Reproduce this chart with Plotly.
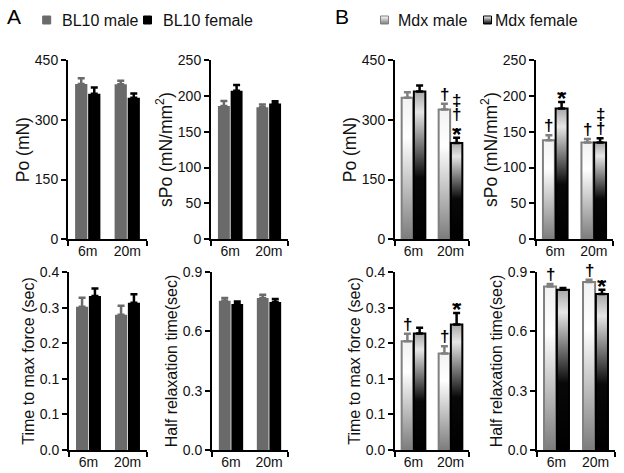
import plotly.graph_objects as go

# ---------------- data ----------------
categories = ["6m", "20m"]

# Panel A : BL10
bl10_po_male = [390, 389]
bl10_po_male_err = [14, 9]
bl10_po_female = [365, 355]
bl10_po_female_err = [16, 11]

bl10_spo_male = [186, 184]
bl10_spo_male_err = [7, 4]
bl10_spo_female = [207, 189.5]
bl10_spo_female_err = [8, 3]

bl10_ttmf_male = [0.322, 0.304]
bl10_ttmf_male_err = [0.020, 0.020]
bl10_ttmf_female = [0.346, 0.331]
bl10_ttmf_female_err = [0.017, 0.019]

bl10_hrt_male = [0.755, 0.768]
bl10_hrt_male_err = [0.013, 0.017]
bl10_hrt_female = [0.738, 0.748]
bl10_hrt_female_err = [0.013, 0.015]

# Panel B : Mdx
mdx_po_male = [355, 326]
mdx_po_male_err = [14, 14]
mdx_po_female = [371, 242]
mdx_po_female_err = [15, 13]

mdx_spo_male = [138, 135]
mdx_spo_male_err = [7, 5]
mdx_spo_female = [182.5, 135]
mdx_spo_female_err = [9, 6]

mdx_ttmf_male = [0.2445, 0.217]
mdx_ttmf_male_err = [0.017, 0.016]
mdx_ttmf_female = [0.262, 0.282]
mdx_ttmf_female_err = [0.013, 0.026]

mdx_hrt_male = [0.827, 0.849]
mdx_hrt_male_err = [0.012, 0.012]
mdx_hrt_female = [0.810, 0.789]
mdx_hrt_female_err = [0.009, 0.021]

# significance marks (stacked top -> bottom)
mdx_po_male_sig = ["", "†"]
mdx_po_female_sig = ["", "‡†*"]
mdx_spo_male_sig = ["†", "†"]
mdx_spo_female_sig = ["*", "‡†"]
mdx_ttmf_male_sig = ["†", "†"]
mdx_ttmf_female_sig = ["", "*"]
mdx_hrt_male_sig = ["†", "†"]
mdx_hrt_female_sig = ["", "*"]

# legend labels
legend_labels = ["BL10 male", "BL10 female", "Mdx male", "Mdx female"]

# axis ticks
po_ticks = [0, 150, 300, 450]
spo_ticks = [0, 50, 100, 150, 200, 250]
ttmf_tickvals = [0, 0.08, 0.16, 0.24, 0.32, 0.4]
ttmf_ticktext = ["0.0", "0.1", "0.1", "0.2", "0.3", "0.4"]
hrt_tickvals = [0, 0.3, 0.6, 0.9]
hrt_ticktext = ["0.0", "0.3", "0.6", "0.9"]

# ---------------- style ----------------
W, H = 624, 473
FONT = "Liberation Sans, Arial, sans-serif"
MALE_GRAY = "#6a6a6a"
BW = 0.31
SHIFT = 0.165
MALE_SCALE = [[0, "#7c7c7c"], [0.72, "#ffffff"], [1, "#f2f2f2"]]
FEMALE_SCALE = [[0, "#000000"], [0.42, "#080808"], [0.86, "#e6e6e6"], [1, "#a8a8a8"]]

fig = go.Figure()

def px_x(a, b):
    return [a / W, b / W]

def px_y(top, bottom):
    return [1 - bottom / H, 1 - top / H]

panels = {
    1: dict(x=px_x(68, 147), y=px_y(60, 239.3), rng=[0, 450], tv=po_ticks, tt=None, title="Po (mN)", ts=17.5),
    2: dict(x=px_x(211, 288), y=px_y(60, 239.3), rng=[0, 250], tv=spo_ticks, tt=None, title="sPo (mN/mm<sup>2</sup>)", ts=17.5),
    3: dict(x=px_x(395, 469), y=px_y(60, 239.3), rng=[0, 450], tv=po_ticks, tt=None, title="Po (mN)", ts=17.5),
    4: dict(x=px_x(536, 613), y=px_y(60, 239.3), rng=[0, 250], tv=spo_ticks, tt=None, title="sPo (mN/mm<sup>2</sup>)", ts=17.5),
    5: dict(x=px_x(69, 147), y=px_y(272, 450), rng=[0, 0.4], tv=ttmf_tickvals, tt=ttmf_ticktext, title="Time to max force (sec)", ts=16),
    6: dict(x=px_x(212, 288), y=px_y(272, 450), rng=[0, 0.9], tv=hrt_tickvals, tt=hrt_ticktext, title="Half relaxation time(sec)", ts=16),
    7: dict(x=px_x(395, 469), y=px_y(272, 450), rng=[0, 0.4], tv=ttmf_tickvals, tt=ttmf_ticktext, title="Time to max force (sec)", ts=16),
    8: dict(x=px_x(537, 615), y=px_y(272, 450), rng=[0, 0.9], tv=hrt_tickvals, tt=hrt_ticktext, title="Half relaxation time(sec)", ts=16),
}

layout_axes = {}
for k, p in panels.items():
    xs = "xaxis" if k == 1 else f"xaxis{k}"
    ys = "yaxis" if k == 1 else f"yaxis{k}"
    layout_axes[xs] = dict(
        domain=p["x"], anchor=f"y{k}" if k > 1 else "y", range=[-0.5, 1.5],
        tickvals=[0, 1], ticktext=categories, ticks="", ticklabelstandoff=-2,
        minor=dict(tickvals=[-0.5, 1.5], ticks="outside", ticklen=5, tickwidth=2, tickcolor="black"),
        showline=True, linecolor="black", linewidth=2, showgrid=False, zeroline=False,
        tickfont=dict(size=14, color="#111", family=FONT), fixedrange=True, automargin=False,
    )
    yd = dict(
        domain=p["y"], anchor=f"x{k}" if k > 1 else "x", range=p["rng"],
        tickvals=p["tv"], showline=True, linecolor="black", linewidth=2,
        ticks="outside", ticklen=5, tickwidth=2, tickcolor="black",
        showgrid=False, zeroline=False, automargin=False, fixedrange=True,
        tickfont=dict(size=14, color="#111", family=FONT),
        title=dict(text=p["title"], font=dict(size=p["ts"], color="#111", family=FONT), standoff=1),
    )
    if p["tt"] is not None:
        yd["ticktext"] = p["tt"]
    layout_axes[ys] = yd

# overlay axis in pixel units, used only to place the legend keys
layout_axes["xaxis9"] = dict(domain=[0, 1], range=[0, W], visible=False, fixedrange=True, anchor="y9")
layout_axes["yaxis9"] = dict(domain=[0, 1], range=[H, 0], visible=False, fixedrange=True, anchor="x9")

def axref(k):
    return ("x" if k == 1 else f"x{k}", "y" if k == 1 else f"y{k}")

# ---- Panel A: solid bars ----
def solid_pair(k, male, male_err, female, female_err):
    xa, ya = axref(k)
    fig.add_trace(go.Bar(
        x=[0, 1], y=male, width=BW, offset=-SHIFT - BW / 2,
        marker=dict(color=MALE_GRAY, line=dict(width=0)),
        error_y=dict(type="data", array=male_err, arrayminus=[0] * len(male), symmetric=False,
                     color=MALE_GRAY, thickness=2.5, width=3.5),
        name=legend_labels[0], showlegend=False, xaxis=xa, yaxis=ya, hoverinfo="skip"))
    fig.add_trace(go.Bar(
        x=[0, 1], y=female, width=BW, offset=SHIFT - BW / 2,
        marker=dict(color="#000000", line=dict(width=0)),
        error_y=dict(type="data", array=female_err, arrayminus=[0] * len(female), symmetric=False,
                     color="#000000", thickness=2.5, width=3.5),
        name=legend_labels[1], showlegend=False, xaxis=xa, yaxis=ya, hoverinfo="skip"))

solid_pair(1, bl10_po_male, bl10_po_male_err, bl10_po_female, bl10_po_female_err)
solid_pair(2, bl10_spo_male, bl10_spo_male_err, bl10_spo_female, bl10_spo_female_err)
solid_pair(5, bl10_ttmf_male, bl10_ttmf_male_err, bl10_ttmf_female, bl10_ttmf_female_err)
solid_pair(6, bl10_hrt_male, bl10_hrt_male_err, bl10_hrt_female, bl10_hrt_female_err)

# ---- Panel B: gradient bars ----
annotations = []

def gradient_series(k, values, errs, sigs, shift, scale, line_color, name):
    xa, ya = axref(k)
    for i, v in enumerate(values):
        xc = i + shift
        fig.add_trace(go.Scatter(
            x=[xc - BW / 2, xc - BW / 2, xc + BW / 2, xc + BW / 2, xc - BW / 2],
            y=[0, v, v, 0, 0], mode="lines", fill="toself",
            fillgradient=dict(type="vertical", colorscale=scale),
            line=dict(color=line_color, width=2),
            name=name, showlegend=False, xaxis=xa, yaxis=ya, hoverinfo="skip"))
    fig.add_trace(go.Scatter(
        x=[i + shift for i in range(len(values))], y=values, mode="markers",
        marker=dict(size=1, color="rgba(0,0,0,0)"),
        error_y=dict(type="data", array=errs, arrayminus=[0] * len(values), symmetric=False,
                     color=line_color, thickness=2.5, width=3.5),
        showlegend=False, xaxis=xa, yaxis=ya, hoverinfo="skip"))
    for i, s in enumerate(sigs):
        n = len(s)
        for j, ch in enumerate(s):
            level = n - 1 - j
            star = ch == "*"
            annotations.append(dict(
                x=i + shift, y=values[i] + errs[i], xref=xa, yref=ya,
                text=f"<b>{ch}</b>", showarrow=False, yanchor="bottom", height=13, valign="middle",
                yshift=1 + level * 14 + (-6 if star else 0),
                font=dict(size=24 if star else 17, color="black", family=FONT)))

def gradient_pair(k, male, male_err, male_sig, female, female_err, female_sig):
    gradient_series(k, male, male_err, male_sig, -SHIFT, MALE_SCALE, "#808080", legend_labels[2])
    gradient_series(k, female, female_err, female_sig, SHIFT, FEMALE_SCALE, "#000000", legend_labels[3])

gradient_pair(3, mdx_po_male, mdx_po_male_err, mdx_po_male_sig, mdx_po_female, mdx_po_female_err, mdx_po_female_sig)
gradient_pair(4, mdx_spo_male, mdx_spo_male_err, mdx_spo_male_sig, mdx_spo_female, mdx_spo_female_err, mdx_spo_female_sig)
gradient_pair(7, mdx_ttmf_male, mdx_ttmf_male_err, mdx_ttmf_male_sig, mdx_ttmf_female, mdx_ttmf_female_err, mdx_ttmf_female_sig)
gradient_pair(8, mdx_hrt_male, mdx_hrt_male_err, mdx_hrt_male_sig, mdx_hrt_female, mdx_hrt_female_err, mdx_hrt_female_sig)

# ---- legend keys (pixel positions on the overlay axis) and labels ----
legend_key_x = [46.7, 147.5, 384.5, 487.5]
legend_text_x = [60, 161, 396, 493]
legend_y = 20
fig.add_trace(go.Scatter(
    x=legend_key_x, y=[legend_y] * 4, mode="markers", xaxis="x9", yaxis="y9",
    marker=dict(symbol="square", size=8,
                color=[MALE_GRAY, "#000000", "#ffffff", "#ffffff"],
                gradient=dict(type=["none", "none", "vertical", "vertical"],
                              color=[MALE_GRAY, "#000000", "#7a7a7a", "#000000"]),
                line=dict(color=[MALE_GRAY, "#000000", "#808080", "#000000"], width=1)),
    showlegend=False, hoverinfo="skip"))
for name, tx in zip(legend_labels, legend_text_x):
    annotations.append(dict(x=tx / W, y=1 - legend_y / H, xref="paper", yref="paper", text=name,
                            showarrow=False, xanchor="left", yanchor="middle",
                            font=dict(size=16, color="#111", family=FONT)))

# panel letters
annotations.append(dict(x=5 / W, y=1 - 16 / H, xref="paper", yref="paper", text="A", showarrow=False,
                        xanchor="left", yanchor="middle", font=dict(size=21, color="black", family=FONT)))
annotations.append(dict(x=333 / W, y=1 - 16 / H, xref="paper", yref="paper", text="B", showarrow=False,
                        xanchor="left", yanchor="middle", font=dict(size=21, color="black", family=FONT)))

fig.update_layout(
    width=W, height=H, margin=dict(l=0, r=0, t=0, b=0, autoexpand=False),
    paper_bgcolor="white", plot_bgcolor="rgba(0,0,0,0)",
    barmode="overlay", showlegend=False, hovermode=False,
    font=dict(family=FONT, color="#111"),
    annotations=annotations,
    **layout_axes,
)

fig.write_html("out.html", config={"displayModeBar": False},
               post_script="document.body.style.margin='0';")
